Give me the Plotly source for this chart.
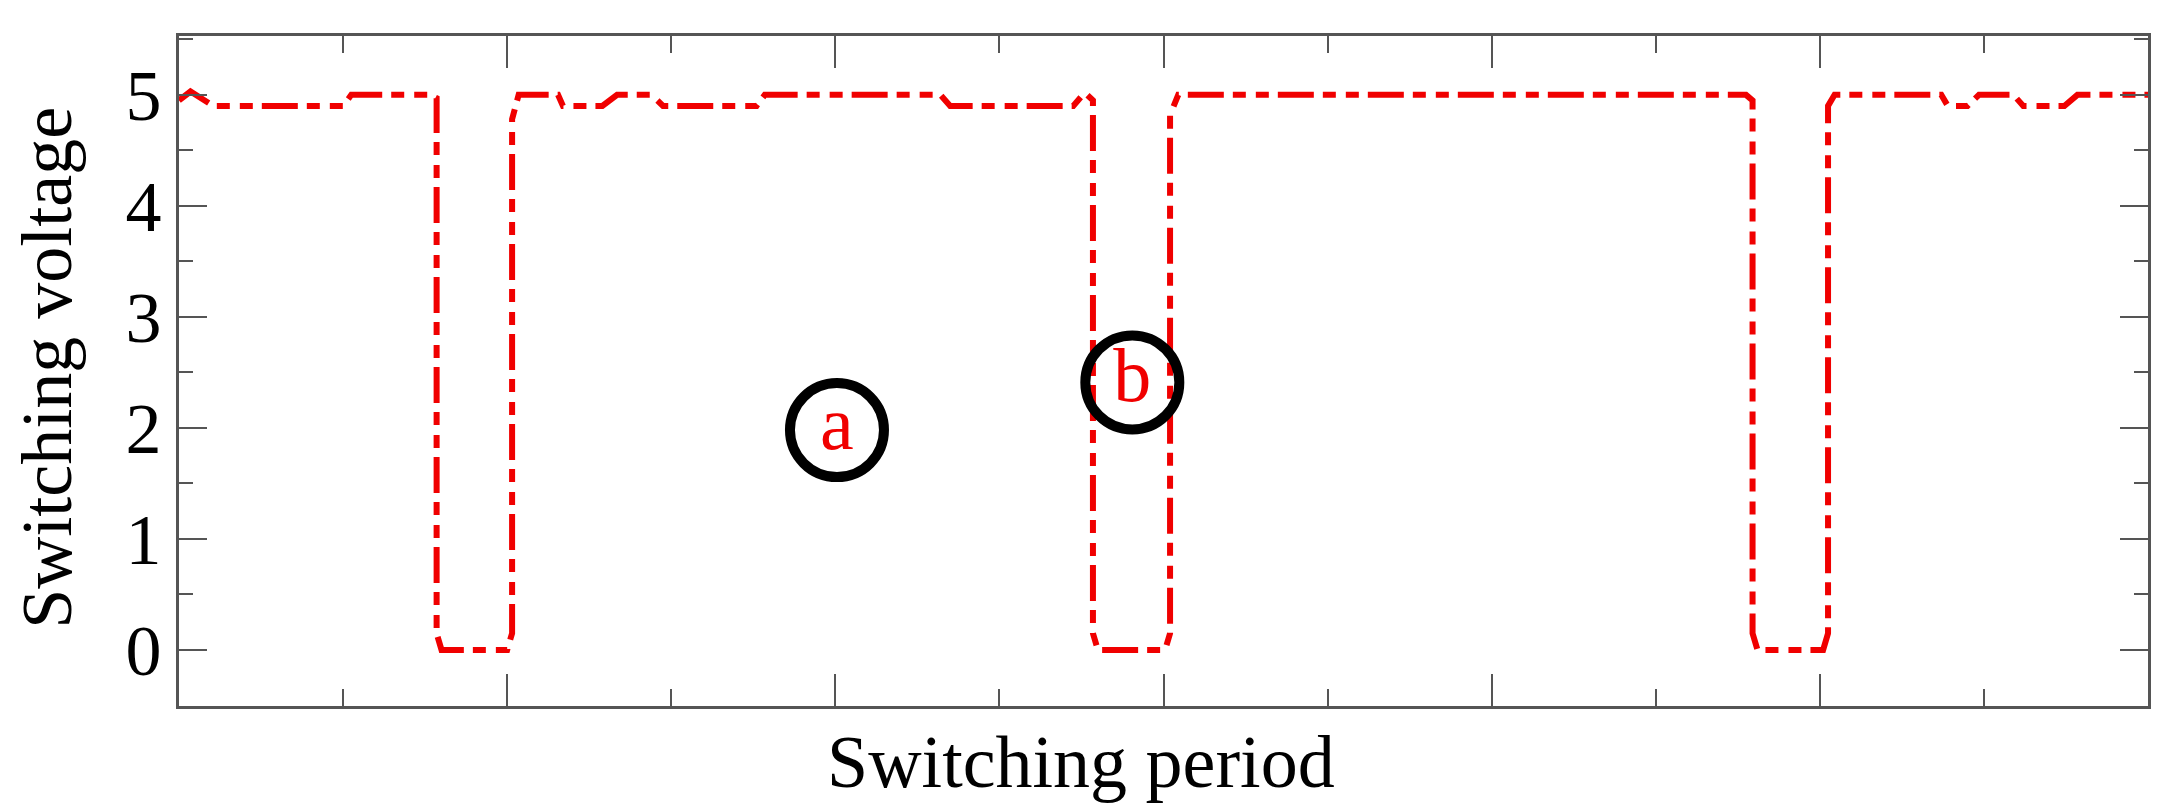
import plotly.graph_objects as go

# switching waveform, x in switching-period units (0..12), y in volts
period = [0, 0.07, 0.21, 1.0, 1.05, 1.53, 1.57, 1.57, 1.60, 2.00, 2.03, 2.03, 2.07,
          2.31, 2.34, 2.58, 2.67, 2.88, 2.95, 3.52, 3.57, 4.64, 4.70, 5.45, 5.52,
          5.57, 5.57, 5.60, 6.01, 6.04, 6.04, 6.09, 9.55, 9.59, 9.59, 9.62, 10.02,
          10.05, 10.05, 10.09, 10.74, 10.78, 10.90, 10.97, 11.18, 11.24, 11.49,
          11.57, 12.0]
voltage = [4.95, 5.03, 4.9, 4.9, 5.0, 5.0, 4.97, 0.15, 0.0, 0.0, 0.15, 4.78, 5.0,
           5.0, 4.9, 4.9, 5.0, 5.0, 4.9, 4.9, 5.0, 5.0, 4.9, 4.9, 5.02,
           4.95, 0.15, 0.0, 0.0, 0.15, 4.82, 5.0, 5.0, 4.95, 0.15, 0.0, 0.0,
           0.15, 4.9, 5.0, 5.0, 4.9, 4.9, 5.0, 5.0, 4.9, 4.9,
           5.0, 5.0]

# circled labels
labels = ['a', 'b']
label_x = [4.01, 5.81]
label_y = [1.98, 2.41]

y_ticks = [0, 1, 2, 3, 4, 5]

font = 'Liberation Serif'

fig = go.Figure()

fig.add_trace(go.Scatter(
    x=period, y=voltage, mode='lines',
    line=dict(color='#f00000', width=6, dash='36px,9px,13px,10px,13px,9px'),
    showlegend=False, hoverinfo='skip'
))

fig.add_trace(go.Scatter(
    x=label_x, y=label_y, mode='markers+text', text=labels,
    textposition='middle center',
    textfont=dict(family=font, size=76, color='#f00000'),
    marker=dict(symbol='circle-open', size=94, color='black',
                line=dict(color='black', width=10)),
    showlegend=False, hoverinfo='skip'
))

axis_common = dict(
    showline=True, linecolor='#555555', linewidth=3, mirror='allticks',
    ticks='inside', tickcolor='#555555', tickwidth=2,
    showgrid=False, zeroline=False,
)

fig.update_xaxes(
    range=[0, 12], tick0=0, dtick=2, ticklen=32, showticklabels=False,
    minor=dict(dtick=1, ticks='inside', ticklen=17, tickcolor='#555555', tickwidth=2),
    **axis_common
)
fig.update_yaxes(
    range=[-0.505, 5.53], tickvals=y_ticks, ticklen=28,
    tickfont=dict(family=font, size=72, color='black'),
    minor=dict(dtick=0.5, tick0=0, ticks='inside', ticklen=14, tickcolor='#555555', tickwidth=2),
    **axis_common
)

fig.add_annotation(
    text='Switching period', xref='paper', yref='paper', x=0.458, y=-0.084,
    showarrow=False, font=dict(family=font, size=74, color='black'),
    xanchor='center', yanchor='middle'
)
fig.add_annotation(
    text='Switching voltage', xref='paper', yref='paper', x=-0.067, y=0.505,
    showarrow=False, textangle=-90, font=dict(family=font, size=72, color='black'),
    xanchor='center', yanchor='middle'
)

fig.update_layout(
    width=2175, height=811,
    margin=dict(l=171, r=35, t=28, b=113),
    plot_bgcolor='white', paper_bgcolor='white',
)

fig.write_html("out.html")
